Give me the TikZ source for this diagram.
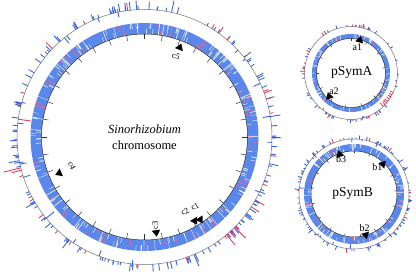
\documentclass[tikz,border=0pt]{standalone}
\usepackage{fontspec}
\setmainfont{Liberation Serif}

\definecolor{geneblue}{RGB}{90,135,235}
\definecolor{tickblue}{RGB}{50,95,225}
\definecolor{snpred}{RGB}{228,55,90}
\definecolor{pinkred}{RGB}{222,105,150}

\tikzset{
  backbone/.style={black!55, line width=0.5pt},
  scaleline/.style={black!80, line width=0.5pt},
  orilabel/.style={font=\fontsize{8.5}{9}\selectfont, inner sep=0pt},
  replabel/.style={font=\fontsize{10}{10}\selectfont, inner sep=0pt},
  repname/.style={font=\fontsize{13.5}{15}\selectfont, inner sep=0pt},
}

% random radial ticks round a circle
% #1 centre, #2 radius, #3 count, #4 min length, #5 extra length, #6 red share, #7 inward share
\newcommand{\randticks}[7]{%
  \foreach \i in {1,...,#3}{
    \pgfmathsetmacro\ang{360*rnd-90}
    \pgfmathsetmacro\len{#4+#5*rnd*rnd}
    \pgfmathtruncatemacro\pick{rnd<#6}
    \pgfmathtruncatemacro\inw{rnd<#7}
    \ifnum\inw=1 \pgfmathsetmacro\len{-\len}\fi
    \ifnum\pick=1 \def\col{snpred}\else\def\col{tickblue}\fi
    \draw[\col, line width=0.85pt, shift={(#1)}] (\ang:#2) -- (\ang:{#2+\len});
  }}

% gene ring: #1 centre, #2 inner r, #3 outer r, #4 white gaps, #5 pink marks
\newcommand{\genering}[5]{%
  \fill[geneblue, even odd rule, shift={(#1)}] (0,0) circle (#3) (0,0) circle (#2);
  \pgfmathsetmacro\mid{(#2+#3)/2}
  \foreach \i in {1,...,#4}{
    \pgfmathsetmacro\ang{360*rnd-90}
    \pgfmathsetmacro\gapw{0.2+0.45*rnd}
    \pgfmathtruncatemacro\part{3*rnd}
    \ifcase\part \def\ra{#2}\def\rb{#3}\or \def\ra{\mid}\def\rb{#3}\else \def\ra{#2}\def\rb{\mid}\fi
    \draw[white, line width=\gapw pt, shift={(#1)}] (\ang:\ra) -- (\ang:\rb);
  }
  \foreach \i in {1,...,#5}{
    \pgfmathsetmacro\ang{360*rnd-90}
    \pgfmathtruncatemacro\part{3*rnd}
    \ifcase\part \def\ra{#2}\def\rb{#3}\or \def\ra{\mid}\def\rb{#3}\else \def\ra{#2}\def\rb{\mid}\fi
    \draw[pinkred, line width=0.7pt, shift={(#1)}] (\ang:\ra) -- (\ang:\rb);
  }}

% origin mark: #1 centre, #2 angle (clockwise from top), #3 radius
\newcommand{\oriarrow}[3]{%
  \fill[shift={(#1)}] ({#2-90-250/#3}:{#3-3}) -- ({#2-90}:{#3+3.5}) -- ({#2-90+250/#3}:{#3-3}) -- cycle;}

\begin{document}
\begin{tikzpicture}[x=1pt,y=-1pt]
  \useasboundingbox (0,0) rectangle (416,275);

  \coordinate (C) at (144.5,137);
  \coordinate (A) at (351,73);
  \coordinate (B) at (354,194);

  % chromosome
  \pgfmathsetseed{31}
  \draw[backbone] (C) circle (127.5);
  \randticks{C}{127.5}{200}{3}{10}{0.2}{0.07}
  \draw[snpred, line width=0.85pt, shift={(C)}] (166:127.5) -- (166:145);
  \draw[snpred, line width=0.85pt, shift={(C)}] (45:127.5) -- (45:143);
  \draw[snpred, line width=0.85pt, shift={(C)}] (50:127.5) -- (50:141);
  \draw[snpred, line width=0.85pt, shift={(C)}] (188:127.5) -- (188:114.5);
  \genering{C}{103}{114}{170}{55}
  \draw[scaleline] (C) circle (103);
  \foreach \k in {0,...,35}
    \draw[scaleline, shift={(C)}] ({\k*10-90}:103) -- ({\k*10-90}:97.5);

  % pSymA
  \draw[backbone] (A) circle (46.5);
  \randticks{A}{46.5}{70}{1.5}{3.5}{0.35}{0.12}
  \foreach \a in {115,118,...,136}
    \draw[snpred, line width=0.8pt, shift={(A)}] ({\a-90}:46.5) -- ({\a-90}:{46.5-3-2*rnd});
  \genering{A}{34.5}{39}{70}{18}
  \draw[scaleline] (A) circle (34.5);
  \foreach \k in {0,...,12}
    \draw[scaleline, shift={(A)}] ({\k*27-90}:34.5) -- ({\k*27-90}:32);

  % pSymB
  \draw[backbone] (B) circle (55);
  \randticks{B}{55}{115}{1.5}{4}{0.12}{0.1}
  \genering{B}{43}{50}{90}{20}
  \draw[scaleline] (B) circle (43);
  \foreach \k in {0,...,16}
    \draw[scaleline, shift={(B)}] ({\k*21.4-90}:43) -- ({\k*21.4-90}:40.5);

  % origin marks
  \oriarrow{C}{21.5}{97}
  \oriarrow{C}{247}{93.5}
  \oriarrow{C}{173}{97}
  \oriarrow{C}{149}{98.5}
  \oriarrow{C}{146}{100.5}
  \oriarrow{A}{15}{35}
  \oriarrow{A}{223}{33}
  \oriarrow{B}{44}{42.5}
  \oriarrow{B}{340}{43}
  \oriarrow{B}{164}{43.5}

  \node[orilabel, rotate=-20] (c5) at (176,56) {c5};
  \node[orilabel, rotate=-65] (c4) at (72,166) {c4};
  \node[orilabel, rotate=90] (c3) at (155,225) {c3};
  \node[orilabel, rotate=30] (c2) at (185,211.5) {c2};
  \node[orilabel, rotate=30] (c1) at (195,206.5) {c1};
  \node[replabel] (a1) at (357.3,47.3) {a1};
  \node[replabel] (a2) at (334,91.5) {a2};
  \node[replabel] (b1) at (377.3,167.3) {b1};
  \node[replabel] (b3) at (341,159.3) {b3};
  \node[replabel] (b2) at (364.7,228.3) {b2};

  \node[align=center, font=\fontsize{12.5}{15.5}\selectfont] (chrname) at (C) {\textit{Sinorhizobium}\\chromosome};
  \node[repname] (symA) at (351.7,72.7) {pSymA};
  \node[repname] (symB) at (352.7,193.3) {pSymB};
\end{tikzpicture}
\end{document}
